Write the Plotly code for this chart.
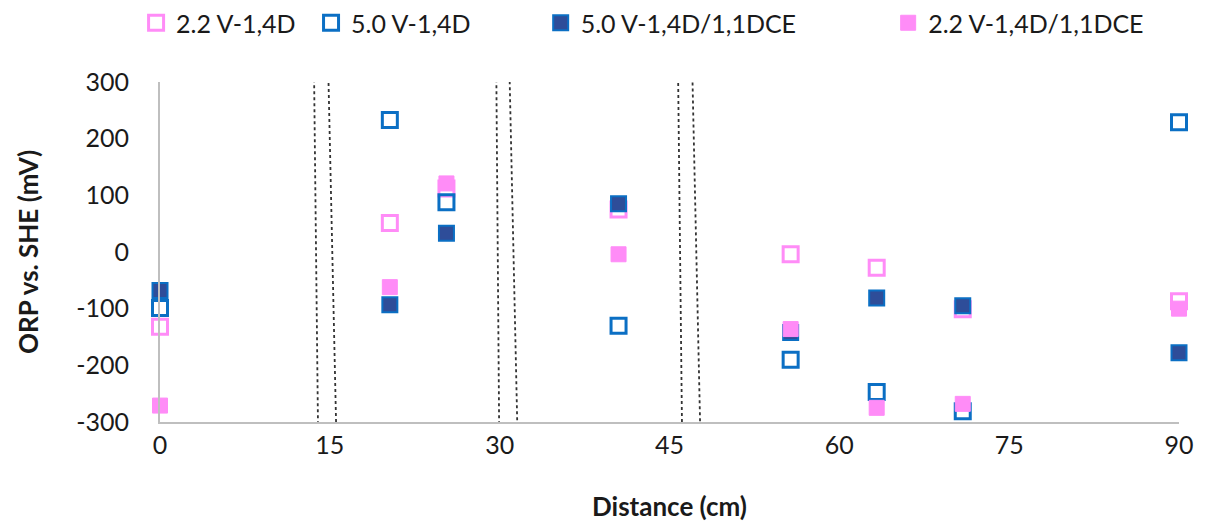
import plotly.graph_objects as go

# Sampling positions along the column (cm)
distance = [0, 20.3, 25.3, 40.5, 55.7, 63.3, 70.9, 90]

# ORP readings vs. SHE (mV) for each treatment
orp_22_14d = [-132, 51, 112, 75, -4, -28, -101, -87]
orp_50_14d = [-99, 233, 88, -130, -190, -247, -281, 229]
orp_50_14d_dce = [-68, -93, 33, 85, -142, -81, -95, -178]
orp_22_14d_dce = [-271, -62, 121, -4, -136, -275, -268, -100]

series_names = ["2.2 V-1,4D", "5.0 V-1,4D", "5.0 V-1,4D/1,1DCE", "2.2 V-1,4D/1,1DCE"]

x_ticks = [0, 15, 30, 45, 60, 75, 90]
y_ticks = [-300, -200, -100, 0, 100, 200, 300]
y_tick_text = ["-300", "-200", "-100", "0", "100", "200", "300"]

# Axis-break indicators: (x_top, y_top, x_bottom, y_bottom) in data units
break_lines = [
    (13.6, 326, 13.95, -300), (14.85, 330, 15.55, -300),
    (29.7, 326, 29.95, -300), (30.85, 333, 31.55, -300),
    (45.75, 330, 46.1, -300), (47.0, 331, 47.7, -300),
]

PINK = "#FF8CF7"
BLUE = "#0B6FC4"
NAVY = "#2E4D99"
FONT = "Lato"

# one legend box per series so the entries can be spread across the top
legend_ids = ["legend", "legend2", "legend3", "legend4"]
legend_x = [0.112, 0.256, 0.445, 0.731]

fig = go.Figure()

styles = [
    (orp_22_14d, dict(symbol="square-open", color=PINK, line=dict(color=PINK, width=3))),
    (orp_50_14d, dict(symbol="square-open", color=BLUE, line=dict(color=BLUE, width=3))),
    (orp_50_14d_dce, dict(symbol="square", color=NAVY, line=dict(color=BLUE, width=2))),
    (orp_22_14d_dce, dict(symbol="square", color=PINK, line=dict(color=PINK, width=1))),
]

for name, (vals, mk), lid in zip(series_names, styles, legend_ids):
    fig.add_trace(go.Scatter(
        x=distance, y=vals, mode="markers", name=name, legend=lid,
        marker=dict(size=15, **mk), cliponaxis=False,
    ))

for x0, y0, x1, y1 in break_lines:
    fig.add_shape(type="line", xref="x", yref="y", x0=x0, y0=y0, x1=x1, y1=y1,
                  line=dict(color="#333333", width=1.8, dash="dot"), layer="above")

legend_style = dict(orientation="h", xanchor="left", yanchor="top", xref="container",
                    yref="container", y=1.0, font=dict(size=25), bgcolor="rgba(0,0,0,0)")

fig.update_layout(
    width=1215, height=525,
    margin=dict(l=160, r=36, t=82, b=103, autoexpand=False),
    paper_bgcolor="white", plot_bgcolor="white",
    font=dict(family=FONT, size=25, color="#1a1a1a"),
    showlegend=True,
    xaxis=dict(range=[0, 90], tickvals=x_ticks, showgrid=False, zeroline=False,
               showline=True, linecolor="#BFBFBF", linewidth=2, ticks="",
               tickfont=dict(size=25), automargin=False,
               title=dict(text="<b>Distance (cm)</b>", font=dict(size=26), standoff=40)),
    yaxis=dict(range=[-300, 300], tickvals=y_ticks, ticktext=y_tick_text,
               showgrid=False, zeroline=False, automargin=False,
               showline=True, linecolor="#BFBFBF", linewidth=2, ticks="",
               tickfont=dict(size=25), ticklabelstandoff=24,
               title=dict(text="<b>ORP vs. SHE (mV)</b>", font=dict(size=26), standoff=30)),
)

for lid, lx in zip(legend_ids, legend_x):
    fig.update_layout({lid: dict(x=lx, **legend_style)})

fig.write_html("out.html")
